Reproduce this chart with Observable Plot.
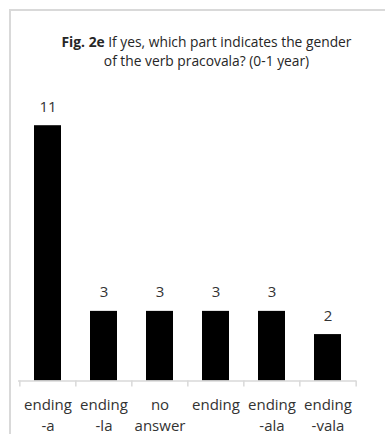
<!DOCTYPE html>
<html>
<head>
<meta charset="utf-8">
<script src="https://cdn.jsdelivr.net/npm/d3@7"></script>
<script src="https://cdn.jsdelivr.net/npm/@observablehq/plot@0.6"></script>
<style>
  html, body { margin: 0; padding: 0; background: #fff; }
  #wrap { position: relative; width: 385px; height: 434px; overflow: hidden; font-family: "Open Sans", sans-serif; }
  #border { position: absolute; left: 9px; top: 9px; width: 420px; height: 460px;
            border-top: 2px solid #d9d9d9; border-left: 2px solid #d9d9d9; }
  #title { position: relative; height: 90px; box-sizing: border-box; padding-top: 32px; padding-left: 28px;
           text-align: center; font-size: 13.8px; line-height: 19px; color: #262626; }
  #chart { position: relative; }
  #chart svg { display: block; }
</style>
</head>
<body>
<div id="wrap">
  <div id="border"></div>
  <div id="title"><b>Fig. 2e</b> If yes, which part indicates the gender<br>of the verb pracovala? (0-1 year)</div>
  <div id="chart"></div>
</div>
<script>
// Answers: which part of "pracovala" marks gender (0-1 year group)
const categories = ["ending -a", "ending -la", "no answer", "ending", "ending -ala", "ending -vala"];
const tickLabels = ["ending\n-a", "ending\n-la", "no\nanswer", "ending", "ending\n-ala", "ending\n-vala"];
const counts = [11, 3, 3, 3, 3, 2];

const data = categories.map((c, i) => ({category: c, label: tickLabels[i], count: counts[i]}));

const width = 385, height = 344;
const marginLeft = 18, marginRight = 29, marginTop = 12, marginBottom = 53.5;
const step = (width - marginLeft - marginRight) / categories.length;
const textColor = "#333333";
const axisColor = "#d9d9d9";

const chart = Plot.plot({
  width, height, marginLeft, marginRight, marginTop, marginBottom,
  style: {fontFamily: "'Open Sans', sans-serif", background: "transparent"},
  x: {domain: categories, paddingInner: 0.52, paddingOuter: 0.26, axis: null},
  y: {domain: [0, 12], axis: null},
  marks: [
    Plot.barY(data, {x: "category", y: "count", fill: "#000"}),
    Plot.ruleY([0], {stroke: axisColor, strokeWidth: 1.5}),
    // category boundary ticks below the baseline
    Plot.ruleX(categories, {x: d => d, y1: 0, y2: 0, dx: -step / 2, insetBottom: -6, stroke: axisColor, strokeWidth: 1.5}),
    Plot.ruleX(categories.slice(-1), {x: d => d, y1: 0, y2: 0, dx: step / 2, insetBottom: -6, stroke: axisColor, strokeWidth: 1.5}),
    // value labels
    Plot.text(data, {x: "category", y: "count", text: d => String(d.count), dy: -14, lineAnchor: "bottom",
      fontSize: 15, fill: textColor}),
    // category labels
    Plot.text(data, {x: "category", y: () => 0, text: "label", lineAnchor: "top", dy: 14, lineHeight: 1.42,
      fontSize: 15, fill: textColor})
  ]
});
document.getElementById("chart").appendChild(chart);
</script>
</body>
</html>
